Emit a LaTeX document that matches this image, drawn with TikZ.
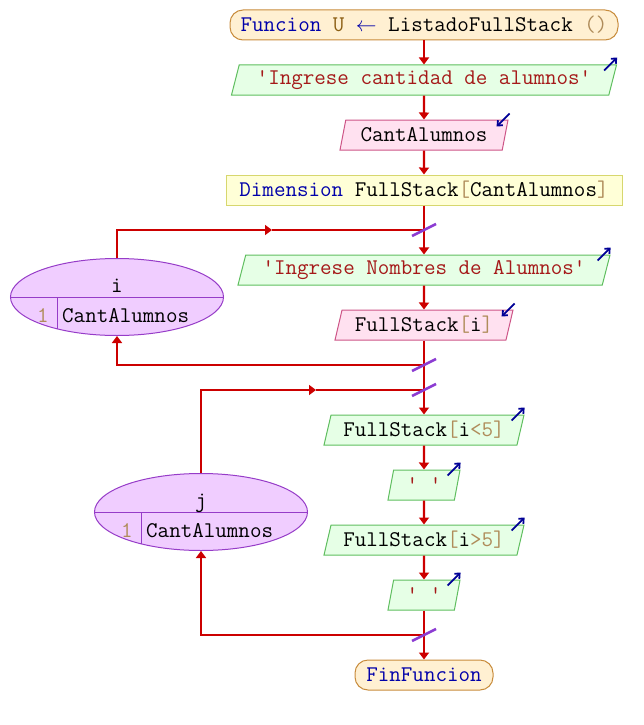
\documentclass[tikz,border=0pt]{standalone}
\usepackage{fontspec}
\usepackage{tikz}
\usetikzlibrary{
  shapes.geometric,
  shapes.misc,
  arrows.meta,
  positioning,
  calc
}
\definecolor{kwblue}{RGB}{0,0,170}
\definecolor{strred}{RGB}{165,25,25}
\definecolor{numbrown}{RGB}{175,140,90}
\definecolor{retbrown}{RGB}{140,95,20}
\definecolor{flowred}{RGB}{204,0,0}
\definecolor{slashpurple}{RGB}{140,60,210}
\definecolor{iconblue}{RGB}{0,0,150}
\definecolor{outfill}{RGB}{230,255,230}
\definecolor{outdraw}{RGB}{95,190,95}
\definecolor{infill}{RGB}{255,225,240}
\definecolor{indraw}{RGB}{205,85,135}
\definecolor{procfill}{RGB}{255,255,215}
\definecolor{procdraw}{RGB}{215,215,110}
\definecolor{termfill}{RGB}{255,240,210}
\definecolor{termdraw}{RGB}{200,140,60}
\definecolor{loopfill}{RGB}{240,205,255}
\definecolor{loopdraw}{RGB}{150,60,200}

\tikzset{
  txt/.style={font=\ttfamily\fontsize{22.4}{24}\selectfont, inner sep=0pt},
  term/.style={txt, draw=termdraw, fill=termfill, line width=1pt,
    rounded corners=13pt, minimum height=30pt},
  proc/.style={txt, draw=procdraw, fill=procfill, line width=1pt, minimum height=30pt},
  outbox/.style={txt, trapezium, trapezium left angle=68, trapezium right angle=112,
    trapezium stretches body, draw=outdraw, fill=outfill, line width=1pt, minimum height=30pt},
  inbox/.style={outbox, draw=indraw, fill=infill},
  loopbox/.style={ellipse, draw=loopdraw, fill=loopfill, line width=1pt,
    minimum width=213pt, minimum height=77pt,
    path picture={
      \draw[loopdraw, line width=1pt] (path picture bounding box.west) -- (path picture bounding box.east);
      \draw[loopdraw, line width=1pt] ($(path picture bounding box.center)+(-60,0)$) -- ++(0,45);
    }},
  flow/.style={flowred, line width=2.2pt, -{Triangle[length=7pt,width=10pt]}},
  link/.style={flowred, line width=2.2pt},
  slash/.style={slashpurple, line width=2.5pt},
  iconarrow/.style={iconblue, line width=1.8pt, -{Straight Barb[length=4pt,width=7pt]}}
}

\begin{document}
\begin{tikzpicture}[x=1pt, y=-1pt]
  \useasboundingbox (0,0) rectangle (644,725);
  \def\cx{424} % main column

  % Main column
  \node[term, minimum width=388pt] (start) at (\cx,25)
    {{\color{kwblue}Funcion} {\color{retbrown}U} {\color{kwblue}$\leftarrow$} ListadoFullStack {\color{numbrown}()}};
  \node[outbox, minimum width=385pt] (outCant) at (\cx,80)
    {\color{strred}'Ingrese cantidad de alumnos'};
  \node[inbox, minimum width=168pt] (inCant) at (\cx,135) {CantAlumnos};
  \node[proc, minimum width=396pt] (dimFS) at (\cx,190)
    {{\color{kwblue}Dimension} FullStack{\color{numbrown}[}CantAlumnos{\color{numbrown}]}};
  \node[outbox, minimum width=372pt] (outNom) at (\cx,270)
    {\color{strred}'Ingrese Nombres de Alumnos'};
  \node[inbox, minimum width=178pt] (inFS) at (\cx,325)
    {FullStack{\color{numbrown}[}i{\color{numbrown}]}};
  \node[outbox, minimum width=200pt] (outMenor) at (\cx,430)
    {FullStack{\color{numbrown}[}i{\color{numbrown}<5]}};
  \node[outbox, minimum width=72pt] (outVacio1) at (\cx,485) {\color{strred}' '};
  \node[outbox, minimum width=200pt] (outMayor) at (\cx,540)
    {FullStack{\color{numbrown}[}i{\color{numbrown}>5]}};
  \node[outbox, minimum width=72pt] (outVacio2) at (\cx,595) {\color{strred}' '};
  \node[term, minimum width=138pt] (fin) at (\cx,675) {\color{kwblue}FinFuncion};

  % Loop i
  \node[loopbox] (loopI) at (117,297) {};
  \node[txt, anchor=base] (iVar) at ($(loopI)+(0,-5)$) {i};
  \node[txt, anchor=base, text=numbrown] (iFrom) at ($(loopI)+(-74,25)$) {1};
  \node[txt, anchor=base west] (iTo) at ($(loopI)+(-55,25)$) {CantAlumnos};

  % Loop j
  \node[loopbox] (loopJ) at (201,512) {};
  \node[txt, anchor=base] (jVar) at ($(loopJ)+(0,-5)$) {j};
  \node[txt, anchor=base, text=numbrown] (jFrom) at ($(loopJ)+(-74,25)$) {1};
  \node[txt, anchor=base west] (jTo) at ($(loopJ)+(-55,25)$) {CantAlumnos};

  % Loop joints
  \coordinate (iTop) at (\cx,230);
  \coordinate (iMid) at (272,230);
  \coordinate (iBot) at (\cx,365);
  \coordinate (jTop) at (\cx,390);
  \coordinate (jMid) at (316,390);
  \coordinate (jBot) at (\cx,635);

  % Connectors
  \draw[flow] (start) -- (outCant);
  \draw[flow] (outCant) -- (inCant);
  \draw[flow] (inCant) -- (dimFS);
  \draw[flow] (dimFS) -- (outNom);
  \draw[flow] (outNom) -- (inFS);
  \draw[link] (inFS) -- (iBot) -- (jTop);
  \draw[flow] (jTop) -- (outMenor);
  \draw[flow] (outMenor) -- (outVacio1);
  \draw[flow] (outVacio1) -- (outMayor);
  \draw[flow] (outMayor) -- (outVacio2);
  \draw[link] (outVacio2) -- (jBot);
  \draw[flow] (jBot) -- (fin);

  \draw[flow] (loopI.north) |- (iMid);
  \draw[link] (iMid) -- (iTop);
  \draw[flow] (iBot) -| (loopI.south);
  \draw[flow] (loopJ.north) |- (jMid);
  \draw[link] (jMid) -- (jTop);
  \draw[flow] (jBot) -| (loopJ.south);

  \foreach \c in {iTop,iBot,jTop,jBot}
    \draw[slash] ($(\c)+(-12,6)$) -- ($(\c)+(12,-6)$);

  % Output / input marks
  \foreach \n in {outCant,outNom,outMenor,outVacio1,outMayor,outVacio2}
    \draw[iconarrow] ($(\n.top right corner)+(-13,6)$) -- ++(13,-13);
  \foreach \n in {inCant,inFS}
    \draw[iconarrow] ($(\n.top right corner)+(1,-6)$) -- ++(-13,13);
\end{tikzpicture}
\end{document}
